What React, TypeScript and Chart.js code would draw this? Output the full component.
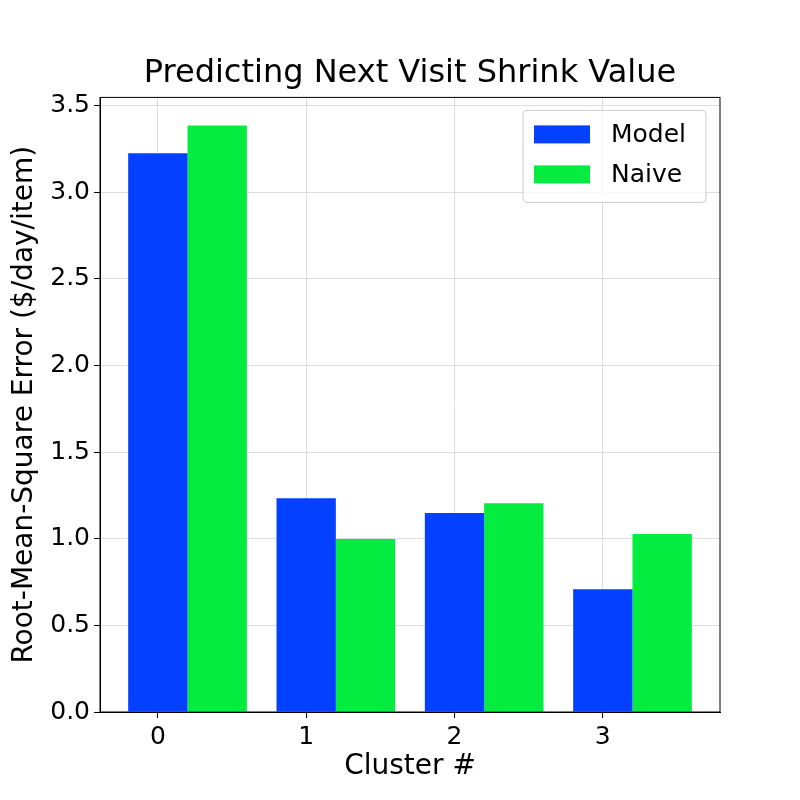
import React, { useEffect, useRef } from "react";
import { Chart, registerables } from "chart.js";
Chart.register(...registerables);

const clusters = [0, 1, 2, 3];
const modelValues = [3.225, 1.233, 1.148, 0.709];
const naiveValues = [3.385, 0.998, 1.205, 1.027];
const yTicks = [0, 0.5, 1, 1.5, 2, 2.5, 3, 3.5];

const FONT = "'DejaVu Sans', sans-serif";

const legendPlugin = {
  id: "boxLegend",
  afterDraw(chart: any) {
    const ctx = chart.ctx;
    const a = chart.chartArea;
    ctx.save();
    ctx.strokeStyle = "#000";
    ctx.lineWidth = 1;
    ctx.strokeRect(a.left, a.top, a.right - a.left, a.bottom - a.top);
    const w = 183, h = 92;
    const x = a.right - 14 - w, y = a.top + 13;
    ctx.fillStyle = "rgba(255,255,255,0.8)";
    ctx.strokeStyle = "#cccccc";
    ctx.beginPath();
    ctx.roundRect(x, y, w, h, 4);
    ctx.fill();
    ctx.stroke();
    ctx.font = `25px ${FONT}`;
    ctx.textBaseline = "middle";
    chart.data.datasets.forEach((ds: any, i: number) => {
      const cy = y + 24 + i * 40;
      ctx.fillStyle = ds.backgroundColor;
      ctx.fillRect(x + 11, cy - 9, 56, 18);
      ctx.fillStyle = "#000";
      ctx.fillText(ds.label, x + 88, cy + 1);
    });
    ctx.restore();
  },
};

export default function App() {
  const ref = useRef<HTMLCanvasElement>(null);
  useEffect(() => {
    const chart = new Chart(ref.current!, {
      type: "bar",
      data: {
        datasets: [
          { label: "Model", data: clusters.map((c, i) => ({ x: c + 0.2, y: modelValues[i] })), backgroundColor: "#0340ff", categoryPercentage: 0.8, barPercentage: 1 },
          { label: "Naive", data: clusters.map((c, i) => ({ x: c + 0.2, y: naiveValues[i] })), backgroundColor: "#03ec3f", categoryPercentage: 0.8, barPercentage: 1 },
        ],
      },
      options: {
        animation: false,
        responsive: false,
        layout: { padding: { right: 80, left: 0, top: 0, bottom: 12 } },
        plugins: {
          legend: { display: false },
          tooltip: { enabled: false },
          title: { display: true, fullSize: false, text: "Predicting Next Visit Shrink Value", color: "#000", font: { family: FONT, size: 32, weight: "normal" }, padding: { top: 54, bottom: 5 } },
        },
        scales: {
          x: {
            type: "linear",
            min: -0.39,
            max: 3.79,
            offset: false,
            afterBuildTicks: (s: any) => { s.ticks = clusters.map((v) => ({ value: v })); },
            afterFit: (s: any) => { s.height = 76; },
            ticks: { color: "#000", font: { family: FONT, size: 25 }, padding: 4 },
            grid: { offset: false, color: "#dddddd", drawTicks: true, tickColor: "#000", tickLength: 6 },
            border: { color: "#000" },
            title: { display: true, text: "Cluster #", color: "#000", font: { family: FONT, size: 28 }, padding: { top: 0, bottom: 4 } },
          },
          y: {
            min: 0,
            max: 3.547,
            afterBuildTicks: (s: any) => { s.ticks = yTicks.map((v) => ({ value: v })); },
            afterFit: (s: any) => { s.width = 100; },
            ticks: { color: "#000", font: { family: FONT, size: 25 }, padding: 4, callback: (v: any) => Number(v).toFixed(1) },
            grid: { color: "#dddddd", tickColor: "#000", tickLength: 6 },
            border: { color: "#000" },
            title: { display: true, text: "Root-Mean-Square Error ($/day/item)", color: "#000", font: { family: FONT, size: 28 }, padding: { top: 8, bottom: 4 } },
          },
        },
      } as any,
      plugins: [legendPlugin],
    });
    return () => chart.destroy();
  }, []);
  return (
    <div style={{ position: "absolute", left: 0, top: 0, width: 800, height: 800, background: "#fff" }}>
      <canvas ref={ref} width={800} height={800} style={{ display: "block", width: 800, height: 800 }} />
    </div>
  );
}
